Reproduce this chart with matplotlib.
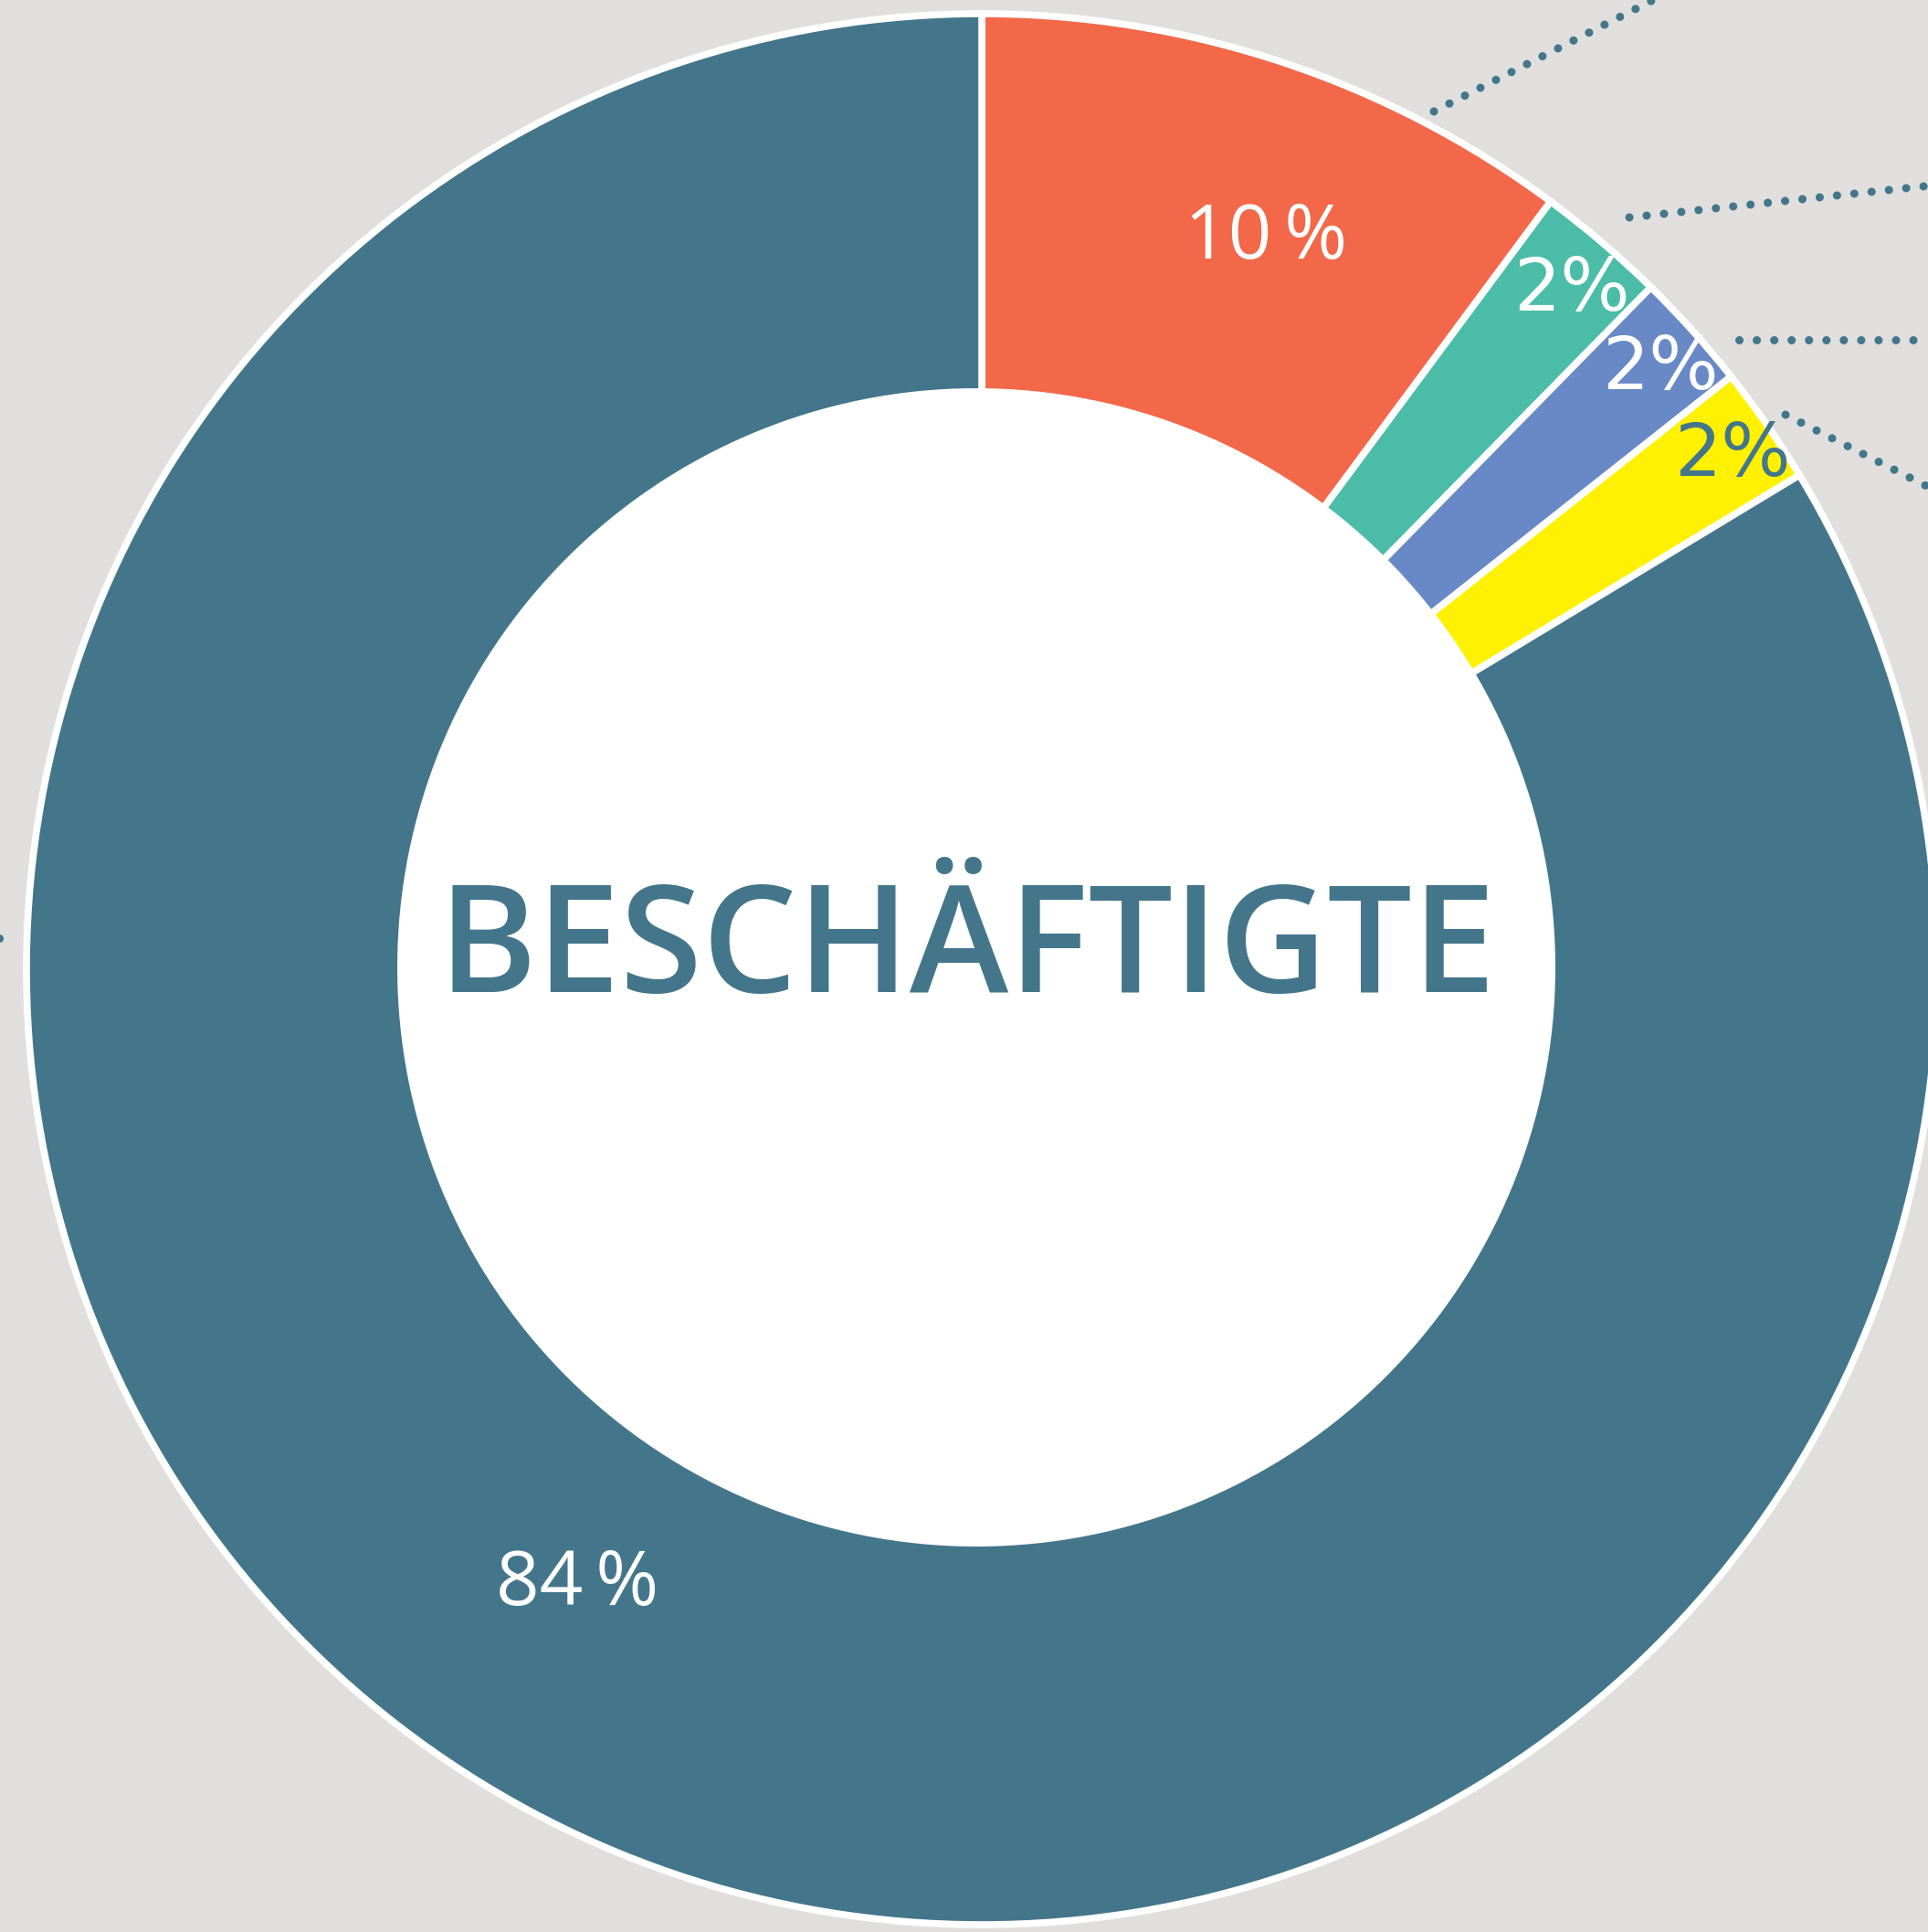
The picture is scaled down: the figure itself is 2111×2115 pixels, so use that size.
import matplotlib
matplotlib.use("Agg")
import matplotlib.pyplot as plt
from matplotlib.patches import Circle

# daten
anteile = [10.15, 2.2, 2.0, 2.0, 83.65]
beschriftung = ["10\u2009%", "2%", "2%", "2%", "84\u2009%"]
farben = ["#f26849", "#4bbca8", "#6889c6", "#fff101", "#43768b"]
titel = "BESCHÄFTIGTE"

W, H = 2111, 2115
BG = "#e0dfdd"
DUNKEL = "#43768b"


def Y(y):
    return H - y


fig = plt.figure(figsize=(W / 100, H / 100), dpi=100, facecolor=BG)
ax = fig.add_axes([0, 0, 1, 1])
ax.set_facecolor(BG)

ax.pie(anteile, colors=farben, startangle=90, counterclock=False,
       center=(1075, Y(1061)), radius=1046,
       wedgeprops=dict(edgecolor="white", linewidth=5.5))
ax.add_patch(Circle((1069, Y(1059)), 634, facecolor="white", edgecolor="none", zorder=3))

ax.set_xlim(0, W)
ax.set_ylim(0, H)
ax.set_aspect("auto")
ax.axis("off")

# punktierte linien zu den beschriftungen (ausserhalb des bildes)
linien = [
    [(1570, 122), (1818, -4)],
    [(1784, 238), (2125, 202)],
    [(1904, 372), (2125, 372)],
    [(1955, 454), (2125, 540)],
    [(-60, 1027), (3, 1027)],
]
for (x0, y0), (x1, y1) in linien:
    ax.plot([x0, x1], [Y(y0), Y(y1)], color=DUNKEL, linewidth=6.5,
            linestyle=(0, (0.01, 2.1)), dash_capstyle="round", zorder=4)

# prozentwerte
pos = [(1297, 283), (1657, 340), (1754, 426), (1833, 521), (543, 1757)]
txtfarben = ["white", "white", "white", DUNKEL, "white"]
schrift = [["Open Sans", "DejaVu Sans"], ["DejaVu Sans"], ["DejaVu Sans"],
           ["DejaVu Sans"], ["Open Sans", "DejaVu Sans"]]
groessen = [60, 58, 58, 58, 60]
for t, (x, y), c, f, s in zip(beschriftung, pos, txtfarben, schrift, groessen):
    ax.text(x, Y(y), t, color=c, family=f, fontsize=s, ha="left", va="baseline", zorder=5)

ax.text(1059, Y(1086), titel, color=DUNKEL, family="Open Sans", fontweight="semibold",
        fontsize=118, ha="center", va="baseline", zorder=5)

fig.savefig("out.png", dpi=100, facecolor=BG)
